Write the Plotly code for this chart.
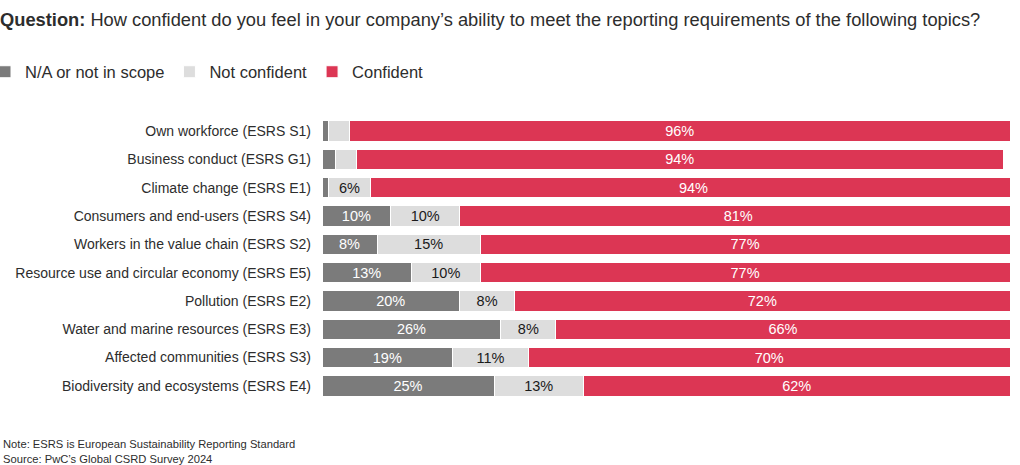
import plotly.graph_objects as go

categories = [
    "Own workforce (ESRS S1)",
    "Business conduct (ESRS G1)",
    "Climate change (ESRS E1)",
    "Consumers and end-users (ESRS S4)",
    "Workers in the value chain (ESRS S2)",
    "Resource use and circular economy (ESRS E5)",
    "Pollution (ESRS E2)",
    "Water and marine resources (ESRS E3)",
    "Affected communities (ESRS S3)",
    "Biodiversity and ecosystems (ESRS E4)",
]
na_scope = [1, 2, 1, 10, 8, 13, 20, 26, 19, 25]
not_confident = [3, 3, 6, 10, 15, 10, 8, 8, 11, 13]
confident = [96, 94, 94, 81, 77, 77, 72, 66, 70, 62]

series = [
    ("N/A or not in scope", na_scope, "#7b7b7b", "white"),
    ("Not confident", not_confident, "#dddddd", "#1a1a1a"),
    ("Confident", confident, "#dc3654", "white"),
]

W, H = 1020, 465
L, R, T, B = 322, 10, 117, 65
pw, ph = W - L - R, H - T - B
FONT = "Liberation Sans, Arial, sans-serif"

fig = go.Figure()
for name, vals, color, tcolor in series:
    fig.add_trace(go.Bar(
        name=name, y=categories, x=vals, orientation="h",
        marker=dict(color=color, line=dict(color="white", width=1)),
        text=[f"{v}%" if v >= 5 else "" for v in vals],
        textposition="inside", insidetextanchor="middle", constraintext="none",
        textfont=dict(color=tcolor, size=14.5, family=FONT),
        hoverinfo="skip",
    ))

fig.update_layout(
    width=W, height=H,
    barmode="stack", bargap=0.28,
    margin=dict(l=L, r=R, t=T, b=B, autoexpand=False),
    paper_bgcolor="white", plot_bgcolor="white",
    font=dict(family=FONT, color="#2d2d2d", size=14),
    title=dict(
        text="<b>Question:</b> How confident do you feel in your company\u2019s ability to meet the reporting requirements of the following topics?",
        x=0.0, xref="container", xanchor="left",
        y=1 - 20 / H, yref="container", yanchor="middle",
        font=dict(size=18.3, color="#2d2d2d"),
        pad=dict(l=0, t=0, b=0),
    ),
    legend=dict(
        orientation="h", x=-(L + 15) / pw, xanchor="left",
        y=1 + 45 / ph, yanchor="middle",
        font=dict(size=16.5, color="#2d2d2d"),
        traceorder="normal", itemclick=False, itemdoubleclick=False,
    ),
    xaxis=dict(range=[0, 100], visible=False, fixedrange=True, automargin=False),
    yaxis=dict(autorange="reversed", showgrid=False, showline=False, zeroline=False,
               automargin=False,
               ticks="", ticklabelstandoff=10, tickfont=dict(size=14, color="#2d2d2d")),
    annotations=[
        dict(
            text="Note: ESRS is European Sustainability Reporting Standard<br>Source: PwC\u2019s Global CSRD Survey 2024",
            xref="paper", yref="paper", x=-(L - 1) / pw, y=-(443 - (T + ph) - 7) / ph,
            xanchor="left", yanchor="top", align="left", showarrow=False,
            font=dict(size=11.2, color="#2d2d2d"),
        )
    ],
)

fig.write_html("out.html")
